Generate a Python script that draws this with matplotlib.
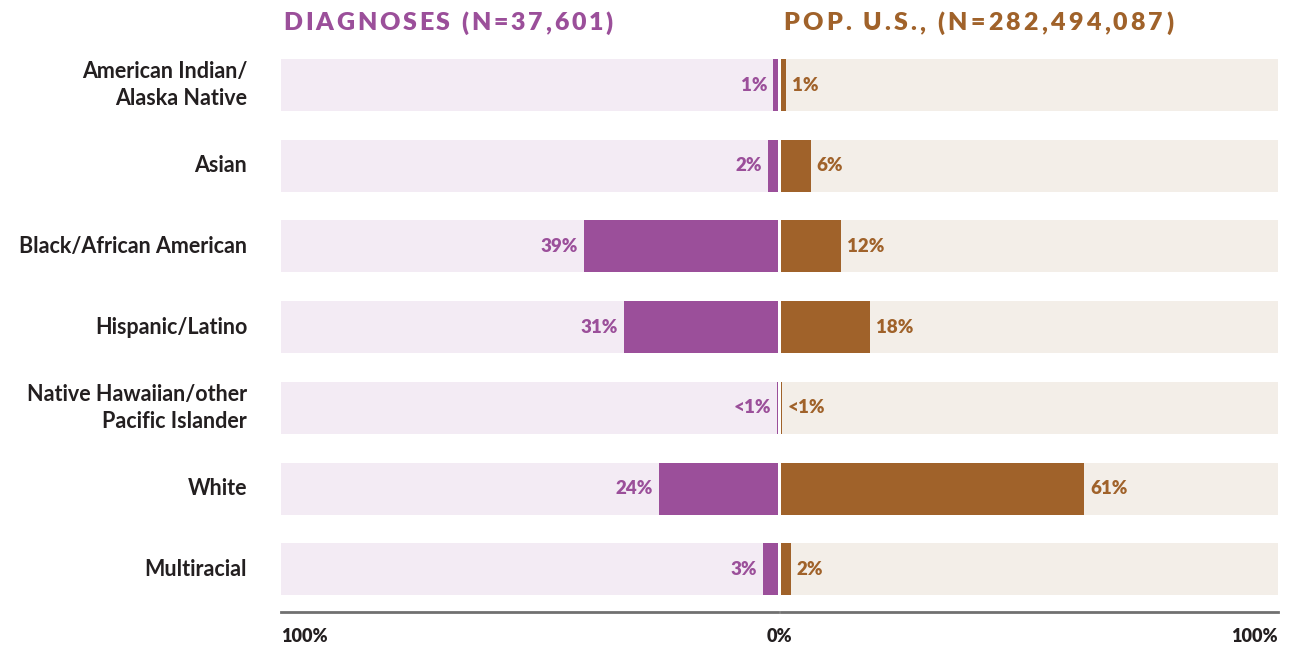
"""Diverging bar chart: HIV diagnoses vs. U.S. population by race/ethnicity."""

import matplotlib

matplotlib.use("Agg")
import matplotlib.pyplot as plt

categories = [
    "American Indian/\nAlaska Native",
    "Asian",
    "Black/African American",
    "Hispanic/Latino",
    "Native Hawaiian/other\nPacific Islander",
    "White",
    "Multiracial",
]
diagnoses_pct = [1, 2, 39, 31, 0.2, 24, 3]
diagnoses_labels = ["1%", "2%", "39%", "31%", "<1%", "24%", "3%"]
population_pct = [1, 6, 12, 18, 0.2, 61, 2]
population_labels = ["1%", "6%", "12%", "18%", "<1%", "61%", "2%"]

left_title = "DIAGNOSES (N=37,601)"
right_title = "POP. U.S., (N=282,494,087)"

PURPLE = "#9B4F9A"
PURPLE_BG = "#F3EBF4"
BROWN = "#A0622A"
BROWN_BG = "#F3EEE8"
DARK = "#231F20"
FONT = "Lato"

W, H = 1295, 652
fig = plt.figure(figsize=(W / 100, H / 100), dpi=100)


def px_axes(x0, x1, y_top, y_bottom):
    return fig.add_axes([x0 / W, (H - y_bottom) / H, (x1 - x0) / W, (y_bottom - y_top) / H])


def tracked_text(x_px, y_px, s, spacing_px, **kw):
    """Draw text left to right with extra letter spacing (matplotlib has none)."""
    renderer = fig.canvas.get_renderer()
    x = x_px
    for ch in s:
        t = fig.text(x / W, 1 - y_px / H, ch, ha="left", va="center", **kw)
        if ch == " ":
            w = t.get_fontsize() * 0.3
        else:
            w = t.get_window_extent(renderer).width
        x += w + spacing_px


ax_l = px_axes(281, 778, 59, 612)
ax_r = px_axes(781, 1278, 59, 612)

rows = list(range(len(categories)))
bar_h = 0.645

for ax, vals, labels, color, bg, side in [
    (ax_l, diagnoses_pct, diagnoses_labels, PURPLE, PURPLE_BG, "left"),
    (ax_r, population_pct, population_labels, BROWN, BROWN_BG, "right"),
]:
    ax.barh(rows, [100] * len(rows), height=bar_h, color=bg, zorder=1)
    ax.barh(rows, vals, height=bar_h, color=color, zorder=2)
    for y, v, lab in zip(rows, vals, labels):
        ax.annotate(
            lab,
            xy=(v, y),
            xytext=(6 if side == "right" else -6, 0),
            textcoords="offset pixels",
            ha="left" if side == "right" else "right",
            va="center",
            color=color,
            fontsize=13.5,
            fontweight="heavy",
            family=FONT,
            zorder=3,
        )
    ax.set_ylim(6.53, -0.3225)
    ax.set_xlim(0, 100)
    for s in ["top", "left", "right"]:
        ax.spines[s].set_visible(False)
    ax.spines["bottom"].set_color("#707070")
    ax.spines["bottom"].set_linewidth(2)
    ax.set_yticks([])
    ax.set_xticks([])

ax_l.invert_xaxis()

# category labels
for y, cat in zip(rows, categories):
    ax_l.text(
        -0.068, y, cat,
        transform=ax_l.get_yaxis_transform(),
        ha="right", va="center", multialignment="right",
        fontsize=15.5, fontweight="bold", color=DARK, family=FONT,
        linespacing=1.35,
    )

# axis end labels
fig.text(281 / W, 1 - 637 / H, "100%", ha="left", va="center",
         fontsize=13, fontweight="heavy", color=DARK, family=FONT)
fig.text(779 / W, 1 - 637 / H, "0%", ha="center", va="center",
         fontsize=13, fontweight="heavy", color=DARK, family=FONT)
fig.text(1278 / W, 1 - 637 / H, "100%", ha="right", va="center",
         fontsize=13, fontweight="heavy", color=DARK, family=FONT)

# column titles (letter-spaced)
tracked_text(283, 23, left_title, 2.8,
             fontsize=18, fontweight="heavy", color=PURPLE, family=FONT)
tracked_text(783, 23, right_title, 3.2,
             fontsize=18, fontweight="heavy", color=BROWN, family=FONT)

fig.savefig("out.png", dpi=100, facecolor="white")
